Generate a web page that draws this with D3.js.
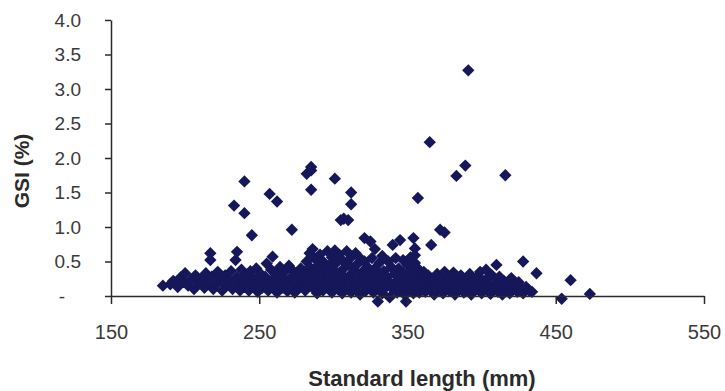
<!DOCTYPE html>
<html>
<head>
<meta charset="utf-8">
<script src="https://cdn.jsdelivr.net/npm/d3@7"></script>
<style>
  body { margin: 0; background: #fff; }
  svg { font-family: "Liberation Sans", Arial, sans-serif; }
</style>
</head>
<body>
<figure id="scatter" style="margin:0"></figure>
<script>
// x ticks (mm) and y ticks (GSI %)
const xTicks = [150, 250, 350, 450, 550];
const yTicks = [0, 0.5, 1.0, 1.5, 2.0, 2.5, 3.0, 3.5, 4.0];

// [standard length (mm), GSI (%)], grouped by length range
const fish180to240 = [
  [185,0.15],[190,0.17],[192,0.22],[195,0.13],[197,0.27],[199,0.2],[200,0.33],[202,0.15],
  [204,0.24],[206,0.1],[207,0.3],[209,0.18],[211,0.25],[213,0.12],[214,0.33],[216,0.2],
  [217,0.62],[217,0.52],[218,0.28],[219,0.1],[221,0.17],[222,0.35],[224,0.24],[225,0.08],
  [227,0.3],[228,0.16],[230,0.22],[231,0.36],[232,0.1],[233,1.31],[234,0.52],[235,0.64],
  [235,0.27],[236,0.18],[237,0.08],[238,0.38],[239,0.22],[240,1.66],[240,1.2],[240,0.13],[241,0.3]
];
const fish240to280 = [
  [242,0.2],[243,0.08],[244,0.36],[245,0.88],[246,0.26],[247,0.14],[248,0.4],[249,0.06],
  [250,0.22],[251,0.32],[252,0.12],[254,0.28],[255,0.47],[255,0.18],[256,0.08],[257,1.48],
  [258,0.38],[259,0.57],[259,0.24],[260,0.13],[261,0.32],[262,1.37],[262,0.05],[263,0.2],
  [264,0.42],[265,0.28],[266,0.12],[267,0.35],[268,0.2],[269,0.07],[270,0.44],[271,0.26],
  [272,0.96],[272,0.15],[273,0.36],[274,0.05],[275,0.22],[276,0.3],[277,0.12],[278,0.4],
  [279,0.18],[280,0.27]
];
const fish280to330 = [
  [281,0.08],[281,0.35],[282,0.5],[282,1.77],[283,0.2],[284,0.62],[284,0.42],[285,1.87],
  [285,1.82],[285,1.54],[285,0.28],[286,0.12],[286,0.68],[287,0.55],[288,0.36],[289,0.04],
  [289,0.22],[290,0.45],[291,0.6],[291,0.15],[292,0.3],[293,0.08],[293,0.5],[294,0.38],
  [295,0.22],[296,0.65],[296,0.12],[297,0.44],[298,0.3],[299,0.05],[299,0.56],[300,0.18],
  [300,0.38],[301,1.7],[301,0.66],[302,0.25],[302,0.48],[303,0.1],[304,0.6],[304,0.33],
  [305,1.1],[305,0.18],[306,0.52],[306,0.04],[307,1.12],[307,0.4],[308,0.26],[309,0.65],
  [309,0.12],[310,1.1],[310,0.46],[311,0.3],[312,1.5],[312,1.33],[312,0.05],[312,0.56],
  [313,0.2],[314,0.38],[315,0.62],[315,0.12],[316,0.46],[317,0.28],[318,0.02],[318,0.55],
  [319,0.18],[320,0.36],[321,0.84],[321,0.5],[322,0.08],[322,0.26],[323,0.42],[324,0.15],
  [325,0.79],[325,0.33],[326,0.55],[327,0.05],[327,0.22],[328,0.68],[328,0.4],[329,0.12],
  [330,0.3],[330,-0.08],[331,0.48]
];
const fish330to360 = [
  [332,0.2],[333,0.58],[333,0.04],[334,0.36],[335,0.12],[336,0.28],[337,0.5],[338,0.2],
  [338,-0.02],[339,0.42],[340,0.74],[340,0.1],[341,0.32],[342,0.55],[342,0.2],[343,0.05],
  [344,0.4],[345,0.81],[345,0.26],[346,0.14],[347,0.52],[347,0.34],[348,0.02],[349,0.22],
  [349,-0.08],[350,0.45],[351,0.3],[351,0.1],[352,0.56],[353,0.18],[353,0.38],[354,0.84],
  [354,0.04],[355,0.69],[355,0.59],[355,0.48],[355,0.3],[355,0.12],[356,0.22],[357,0.4],
  [357,1.42],[358,0.05],[359,0.28],[360,0.15]
];
const fish360to480 = [
  [361,0.35],[362,0.06],[363,0.22],[364,0.3],[365,0.12],[366,0.74],[365,2.23],[367,0.25],
  [368,0.02],[369,0.18],[370,0.32],[372,0.96],[372,0.1],[373,0.26],[374,0.04],[375,0.92],
  [375,0.35],[376,0.18],[378,0.08],[379,0.28],[380,0.14],[381,0.34],[382,0.02],[383,1.74],
  [383,0.22],[384,0.1],[386,0.3],[387,0.16],[388,0.05],[389,1.89],[390,0.25],[391,3.27],
  [391,0.12],[392,0.32],[393,0.02],[394,0.2],[395,0.08],[397,0.28],[398,0.15],[399,0.35],
  [400,0.04],[401,0.22],[402,0.1],[403,0.38],[404,0.26],[405,0.16],[406,0.03],[407,0.3],
  [408,0.12],[410,0.45],[410,0.2],[411,0.06],[412,0.28],[413,0.14],[414,0.02],[415,0.22],
  [416,1.75],[417,0.1],[418,0.18],[419,0.04],[420,0.26],[421,0.12],[423,0.16],[424,0.06],
  [425,0.2],[427,0.1],[428,0.5],[428,0.04],[430,0.13],[432,0.08],[434,0.06],[437,0.33],
  [454,-0.04],[460,0.23],[473,0.03]
];

const allFish = [].concat(fish180to240, fish240to280, fish280to330, fish330to360, fish360to480);

const margin = { top: 20, right: 21, bottom: 95, left: 111 };
const width = 725 - margin.left - margin.right;
const height = 391 - margin.top - margin.bottom;

const svg = d3.select("figure#scatter").append("svg")
  .attr("width", 725)
  .attr("height", 391)
  .append("g")
  .attr("transform", "translate(" + margin.left + "," + margin.top + ")");

const x = d3.scaleLinear().domain([150, 550]).range([0, width]);
const y = d3.scaleLinear().domain([0, 4]).range([height, 0]);

// Points (rotated squares = Excel style diamonds)
const diamond = d3.symbol().type(d3.symbolSquare).size(76);
svg.selectAll("path.pt")
  .data(allFish)
  .enter()
  .append("path")
  .attr("class", "pt")
  .attr("d", diamond)
  .attr("transform", d => "translate(" + x(d[0]) + "," + y(d[1]) + ") rotate(45)")
  .attr("fill", "#16165a");

// Y axis
const yAxis = svg.append("g")
  .call(d3.axisLeft(y).tickValues(yTicks).tickSize(6).tickSizeOuter(0).tickPadding(24)
    .tickFormat(d => d === 0 ? "-" : d3.format(".1f")(d)));
yAxis.selectAll("text").attr("font-size", 19).attr("fill", "#3a3a3a");
yAxis.selectAll(".tick").filter(d => d === 0).select("text").attr("x", -46);

// X axis
const xAxis = svg.append("g")
  .attr("transform", "translate(0," + height + ")")
  .call(d3.axisBottom(x).tickValues(xTicks).tickSize(8).tickSizeOuter(0).tickPadding(21));
xAxis.selectAll("text").attr("font-size", 20).attr("fill", "#3a3a3a");

svg.selectAll(".domain, .tick line").attr("stroke", "#2a2a2a").attr("stroke-width", 1.5);

// Titles
svg.append("text")
  .attr("x", 311)
  .attr("y", height + 90)
  .attr("text-anchor", "middle")
  .attr("font-size", 22)
  .attr("font-weight", "bold")
  .attr("fill", "#2a2a2a")
  .text("Standard length (mm)");

svg.append("text")
  .attr("transform", "translate(-82," + (171 - margin.top) + ") rotate(-90)")
  .attr("text-anchor", "middle")
  .attr("font-size", 21)
  .attr("font-weight", "bold")
  .attr("fill", "#2a2a2a")
  .text("GSI (%)");
</script>
</body>
</html>
